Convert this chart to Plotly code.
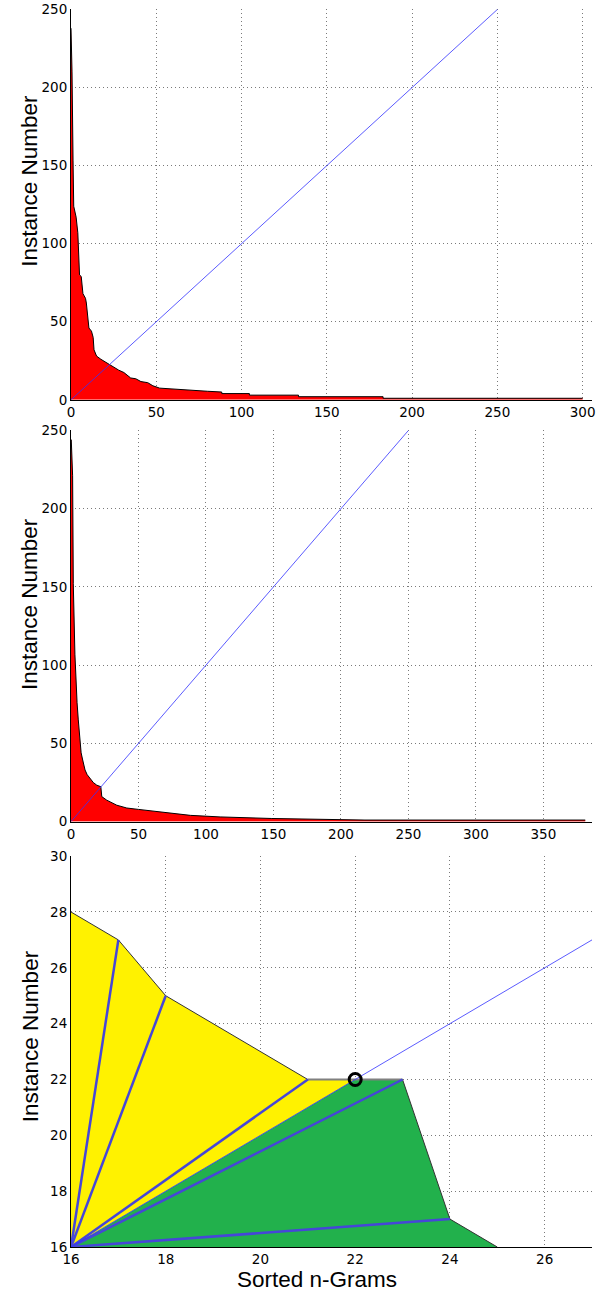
import plotly.graph_objects as go

# ---------------- data ----------------
# Panel 1: sorted n-gram instance counts (rank, count)
p1_rank = [0, 0.6, 1.2, 1.6, 3, 4, 5, 6, 7, 8.5, 9, 10.5, 12, 13, 13.5, 15, 17.5, 21, 25, 28, 31,
           33, 35, 38, 41, 45, 48, 52, 58, 64, 72, 80, 88.4, 88.4, 104.6, 104.6, 133.4, 133.4,
           183, 183, 300]
p1_count = [238, 210, 153, 124, 117, 107, 80, 79, 68, 65, 62, 46, 44, 40, 32, 28, 26, 23.5, 21, 19,
            17.5, 16, 14, 13.5, 11.7, 11, 9, 7.5, 7, 6.5, 6, 5.5, 5, 4, 4, 3, 3, 2, 2, 1, 1]

# Panel 2
p2_rank = [0, 0.2, 1.2, 1.7, 2.9, 3.7, 4.5, 5.4, 6.5, 7.5, 8.5, 10.4, 12, 14.1, 16.5, 19.1, 22.1,
           22.8, 26.5, 33.9, 41.3, 50, 56, 62, 70, 78.5, 78.5, 88.5, 88.5, 110.5, 110.5, 148.8,
           148.8, 217.8, 217.8, 381]
p2_count = [244, 244, 221, 152, 107, 86, 76, 65, 55, 44, 40, 33, 30, 27.6, 25, 23.3, 22.3,
            16, 13.7, 10.5, 8.7, 7.8, 7.2, 6.5, 6, 5, 5, 4, 4, 3, 3, 2, 2, 1, 1, 1]

diag12 = [0, 250]

# Panel 3: zoomed neighbourhood
upper_x = [16, 17, 18, 21, 22]
upper_y = [28, 27, 25, 22, 22]
lower_x = [22, 23, 24, 25]
lower_y = [22, 22, 17, 16]
origin = 16
ray_x = [17, 18, 21, 23, 24]
ray_y = [27, 25, 22, 22, 17]
diag3 = [16, 27]
knee_x = [22]
knee_y = [22]

RED = "#ff0000"
YEL = "#fff200"
GRN = "#22b14c"
BLUE_THIN = "rgba(50,50,255,0.8)"
BLUE_THICK = "#4646d8"

fig = go.Figure()

# Panel 1
fig.add_trace(go.Scatter(x=p1_rank, y=p1_count, mode="lines", fill="tozeroy", fillcolor=RED,
                         line=dict(color="black", width=1), xaxis="x", yaxis="y", showlegend=False))
fig.add_trace(go.Scatter(x=diag12, y=diag12, mode="lines", line=dict(color=BLUE_THIN, width=1),
                         xaxis="x", yaxis="y", showlegend=False))
# Panel 2
fig.add_trace(go.Scatter(x=p2_rank, y=p2_count, mode="lines", fill="tozeroy", fillcolor=RED,
                         line=dict(color="black", width=1), xaxis="x2", yaxis="y2", showlegend=False))
fig.add_trace(go.Scatter(x=diag12, y=diag12, mode="lines", line=dict(color=BLUE_THIN, width=1),
                         xaxis="x2", yaxis="y2", showlegend=False))

# Panel 3 polygons
yx = [origin] + upper_x + [origin]
yy = [origin] + upper_y + [origin]
fig.add_trace(go.Scatter(x=yx, y=yy, mode="lines", fill="toself", fillcolor=YEL,
                         line=dict(width=0), xaxis="x3", yaxis="y3", showlegend=False))
gx = [origin] + lower_x + [origin]
gy = [origin] + lower_y + [origin]
fig.add_trace(go.Scatter(x=gx, y=gy, mode="lines", fill="toself", fillcolor=GRN,
                         line=dict(width=0), xaxis="x3", yaxis="y3", showlegend=False))
# outline of the curve
fig.add_trace(go.Scatter(x=upper_x[:4], y=upper_y[:4], mode="lines",
                         line=dict(color="#333333", width=1), xaxis="x3", yaxis="y3", showlegend=False))
fig.add_trace(go.Scatter(x=[upper_x[3], lower_x[1]], y=[upper_y[3], lower_y[1]], mode="lines",
                         line=dict(color="#808080", width=2), xaxis="x3", yaxis="y3", showlegend=False))
fig.add_trace(go.Scatter(x=lower_x[1:], y=lower_y[1:], mode="lines",
                         line=dict(color="#333333", width=1), xaxis="x3", yaxis="y3", showlegend=False))
# rays from origin
rx, ry = [], []
for a, b in zip(ray_x, ray_y):
    rx += [origin, a, None]
    ry += [origin, b, None]
fig.add_trace(go.Scatter(x=rx, y=ry, mode="lines", line=dict(color=BLUE_THICK, width=2.5),
                         xaxis="x3", yaxis="y3", showlegend=False))
fig.add_trace(go.Scatter(x=diag3, y=diag3, mode="lines", line=dict(color=BLUE_THIN, width=1),
                         xaxis="x3", yaxis="y3", showlegend=False))
fig.add_trace(go.Scatter(x=knee_x, y=knee_y, mode="markers",
                         marker=dict(symbol="circle-open", size=12, color="black",
                                     line=dict(color="black", width=3)),
                         xaxis="x3", yaxis="y3", showlegend=False))

TFONT = "Liberation Sans, Arial, sans-serif"
tickfont = dict(family="DejaVu Sans, sans-serif", size=13.5, color="black")
common = dict(showgrid=True, gridcolor="#7a7a7a", griddash="1px,3px", gridwidth=1,
              zeroline=False, showline=True, linecolor="black", linewidth=1,
              ticks="", tickfont=tickfont, mirror=False, automargin=False,
              ticklabeloverflow="allow")

W, H = 609, 1292
fig.update_layout(
    width=W, height=H, autosize=False,
    margin=dict(l=71, r=17, t=9.3, b=45.3, pad=0),
    paper_bgcolor="white", plot_bgcolor="white",
    font=dict(family=TFONT, color="black"),
    xaxis=dict(domain=[0, 1], range=[0, 305.5], tickvals=[0, 50, 100, 150, 200, 250, 300],
               anchor="y", **common),
    yaxis=dict(domain=[0.6843, 1], range=[0, 250.3], tickvals=[0, 50, 100, 150, 200, 250],
               anchor="x", **common),
    xaxis2=dict(domain=[0, 1], range=[0, 386], tickvals=[0, 50, 100, 150, 200, 250, 300, 350],
                anchor="y2", **common),
    yaxis2=dict(domain=[0.3436, 0.6596], range=[0, 250], tickvals=[0, 50, 100, 150, 200, 250],
                anchor="x2", **common),
    xaxis3=dict(domain=[0, 1], range=[16, 27], tickvals=[16, 18, 20, 22, 24, 26],
                anchor="y3", layer="below traces", **common),
    yaxis3=dict(domain=[0, 0.3157], range=[16, 30], tickvals=[16, 18, 20, 22, 24, 26, 28, 30],
                anchor="x3", layer="below traces", **common),
)

# positions below are in page pixels (plot area: x 71..592, y 9.3..1246.7)
PX0, PW, PY1, PH = 71.0, 521.0, 1246.7, 1237.4
title_font = dict(family=TFONT, size=22.5, color="black")
ann = []
for yc in [181, 604, 1036]:
    ann.append(dict(text="Instance Number", xref="paper", yref="paper",
                    x=(30 - PX0) / PW, y=(PY1 - yc) / PH, xanchor="center", yanchor="middle",
                    textangle=-90, showarrow=False, font=title_font))
ann.append(dict(text="Sorted n-Grams", xref="paper", yref="paper",
                x=(316.5 - PX0) / PW, y=(PY1 - 1279) / PH, xanchor="center", yanchor="middle",
                showarrow=False, font=title_font))
fig.update_layout(annotations=ann)

# remove the default 8px page margin so the figure sits at the top-left corner
fig.write_html("out.html", config={"displayModeBar": False},
               post_script="document.body.style.margin='0';")
